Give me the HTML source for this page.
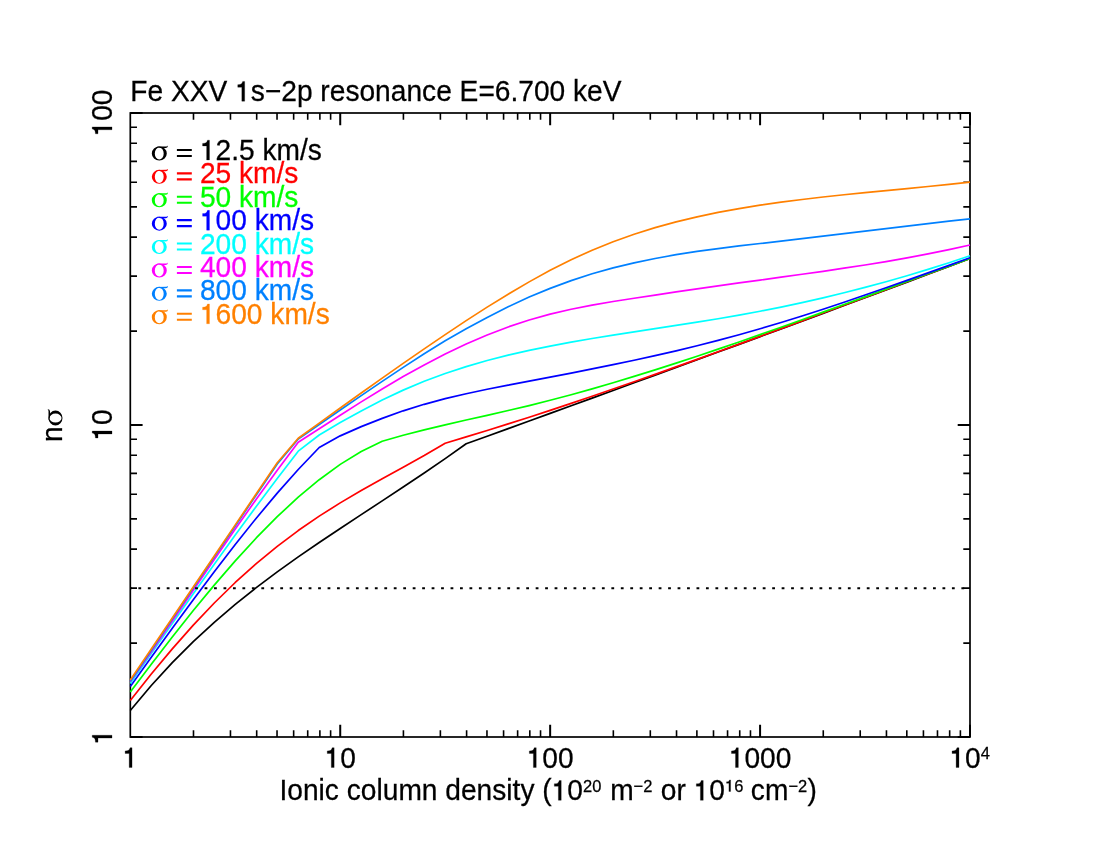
<!DOCTYPE html>
<html><head><meta charset="utf-8"><title>chart</title>
<style>html,body{margin:0;padding:0;background:#fff;width:1100px;height:850px;overflow:hidden}.s{font-family:"Liberation Sans",sans-serif;font-size:28.15px}.g{font-family:"Liberation Serif",serif;font-size:31px}.u{font-size:16.5px}.o{fill:none;stroke:none}</style></head>
<body>
<svg width="1100" height="850" viewBox="0 0 1100 850" style="position:absolute;left:0;top:0;will-change:transform">
<rect width="1100" height="850" fill="#fff"/>
<rect x="130.3" y="113.0" width="839.7" height="624.0" fill="none" stroke="#000" stroke-width="1.7"/>
<path d="M193.49,737.0v-6.7M193.49,113.0v6.7M230.46,737.0v-6.7M230.46,113.0v6.7M256.69,737.0v-6.7M256.69,113.0v6.7M277.03,737.0v-6.7M277.03,113.0v6.7M293.65,737.0v-6.7M293.65,113.0v6.7M307.71,737.0v-6.7M307.71,113.0v6.7M319.88,737.0v-6.7M319.88,113.0v6.7M330.62,737.0v-6.7M330.62,113.0v6.7M403.42,737.0v-6.7M403.42,113.0v6.7M440.38,737.0v-6.7M440.38,113.0v6.7M466.61,737.0v-6.7M466.61,113.0v6.7M486.96,737.0v-6.7M486.96,113.0v6.7M503.58,737.0v-6.7M503.58,113.0v6.7M517.63,737.0v-6.7M517.63,113.0v6.7M529.81,737.0v-6.7M529.81,113.0v6.7M540.54,737.0v-6.7M540.54,113.0v6.7M613.34,737.0v-6.7M613.34,113.0v6.7M650.31,737.0v-6.7M650.31,113.0v6.7M676.54,737.0v-6.7M676.54,113.0v6.7M696.88,737.0v-6.7M696.88,113.0v6.7M713.50,737.0v-6.7M713.50,113.0v6.7M727.56,737.0v-6.7M727.56,113.0v6.7M739.73,737.0v-6.7M739.73,113.0v6.7M750.47,737.0v-6.7M750.47,113.0v6.7M823.27,737.0v-6.7M823.27,113.0v6.7M860.23,737.0v-6.7M860.23,113.0v6.7M886.46,737.0v-6.7M886.46,113.0v6.7M906.81,737.0v-6.7M906.81,113.0v6.7M923.43,737.0v-6.7M923.43,113.0v6.7M937.48,737.0v-6.7M937.48,113.0v6.7M949.66,737.0v-6.7M949.66,113.0v6.7M960.39,737.0v-6.7M960.39,113.0v6.7M130.3,643.08h6.7M970.0,643.08h-6.7M130.3,588.14h6.7M970.0,588.14h-6.7M130.3,549.16h6.7M970.0,549.16h-6.7M130.3,518.92h6.7M970.0,518.92h-6.7M130.3,494.22h6.7M970.0,494.22h-6.7M130.3,473.33h6.7M970.0,473.33h-6.7M130.3,455.24h6.7M970.0,455.24h-6.7M130.3,439.28h6.7M970.0,439.28h-6.7M130.3,331.08h6.7M970.0,331.08h-6.7M130.3,276.14h6.7M970.0,276.14h-6.7M130.3,237.16h6.7M970.0,237.16h-6.7M130.3,206.92h6.7M970.0,206.92h-6.7M130.3,182.22h6.7M970.0,182.22h-6.7M130.3,161.33h6.7M970.0,161.33h-6.7M130.3,143.24h6.7M970.0,143.24h-6.7M130.3,127.28h6.7M970.0,127.28h-6.7" stroke="#000" stroke-width="1.6" fill="none"/>
<path d="M340.23,737.0v-12.3M340.23,113.0v12.3M550.15,737.0v-12.3M550.15,113.0v12.3M760.08,737.0v-12.3M760.08,113.0v12.3M970.00,737.0v-12.3M970.00,113.0v12.3M130.3,737.00h12.3M970.0,737.00h-12.3M130.3,425.00h12.3M970.0,425.00h-12.3M130.3,113.00h12.3M970.0,113.00h-12.3" stroke="#000" stroke-width="2" fill="none"/>
<polyline points="130.30,710.51 151.29,685.49 172.29,662.63 193.28,641.65 214.27,622.33 235.26,604.41 256.25,587.68 277.25,571.92 298.24,556.92 319.23,542.49 340.23,528.45 361.22,514.64 382.21,500.90 403.20,487.07 424.20,473.02 445.19,458.64 466.18,443.80 487.17,436.20 508.17,428.58 529.16,420.97 550.15,413.34 571.14,405.71 592.14,398.08 613.13,390.43 634.12,382.77 655.11,375.11 676.11,367.43 697.10,359.75 718.09,352.05 739.08,344.34 760.08,336.61 781.07,328.87 802.06,321.12 823.05,313.35 844.05,305.57 865.04,297.77 886.03,289.95 907.02,282.12 928.02,274.27 949.01,266.39 970.00,258.50" fill="none" stroke="#000000" stroke-width="1.7" stroke-linejoin="round"/>
<polyline points="130.30,700.51 151.29,674.04 172.29,648.86 193.28,625.15 214.27,603.00 235.26,582.49 256.25,563.62 277.25,546.34 298.24,530.57 319.23,516.15 340.23,502.88 361.22,490.51 382.21,478.74 403.20,467.21 424.20,455.52 445.19,443.20 466.18,436.93 487.17,430.50 508.17,423.91 529.16,417.19 550.15,410.34 571.14,403.36 592.14,396.27 613.13,389.07 634.12,381.77 655.11,374.38 676.11,366.92 697.10,359.38 718.09,351.77 739.08,344.11 760.08,336.40 781.07,328.65 802.06,320.87 823.05,313.07 844.05,305.25 865.04,297.43 886.03,289.61 907.02,281.79 928.02,274.00 949.01,266.24 970.00,258.50" fill="none" stroke="#ff0000" stroke-width="1.7" stroke-linejoin="round"/>
<polyline points="130.30,692.00 151.29,664.21 172.29,637.00 193.28,610.56 214.27,585.11 235.26,560.85 256.25,537.97 277.25,516.69 298.24,497.19 319.23,479.69 340.23,464.39 361.22,451.49 382.21,441.20 403.20,435.26 424.20,429.86 445.19,424.83 466.18,420.03 487.17,415.31 508.17,410.54 529.16,405.57 550.15,400.29 571.14,394.72 592.14,388.87 613.13,382.77 634.12,376.43 655.11,369.88 676.11,363.14 697.10,356.21 718.09,349.14 739.08,341.93 760.08,334.60 781.07,327.18 802.06,319.68 823.05,312.12 844.05,304.51 865.04,296.87 886.03,289.19 907.02,281.51 928.02,273.82 949.01,266.15 970.00,258.50" fill="none" stroke="#00ff00" stroke-width="1.7" stroke-linejoin="round"/>
<polyline points="130.30,686.50 151.29,657.33 172.29,628.34 193.28,599.72 214.27,571.69 235.26,544.45 256.25,518.20 277.25,493.16 298.24,469.52 319.23,447.50 340.23,435.86 361.22,426.61 382.21,418.35 403.20,410.82 424.20,404.31 445.19,398.68 466.18,393.74 487.17,389.29 508.17,385.17 529.16,381.17 550.15,377.17 571.14,373.10 592.14,368.95 613.13,364.68 634.12,360.26 655.11,355.65 676.11,350.83 697.10,345.77 718.09,340.42 739.08,334.77 760.08,328.79 781.07,322.51 802.06,315.97 823.05,309.19 844.05,302.20 865.04,295.05 886.03,287.76 907.02,280.35 928.02,272.87 949.01,265.34 970.00,257.80" fill="none" stroke="#0000ff" stroke-width="1.7" stroke-linejoin="round"/>
<polyline points="130.30,683.50 151.29,653.50 172.29,623.54 193.28,593.72 214.27,564.18 235.26,535.03 256.25,506.40 277.25,478.42 298.24,451.20 319.23,435.00 340.23,422.59 361.22,410.90 382.21,400.04 403.20,390.14 424.20,381.27 445.19,373.46 466.18,366.58 487.17,360.52 508.17,355.16 529.16,350.37 550.15,346.05 571.14,342.11 592.14,338.47 613.13,335.05 634.12,331.79 655.11,328.60 676.11,325.42 697.10,322.16 718.09,318.76 739.08,315.14 760.08,311.24 781.07,307.06 802.06,302.59 823.05,297.82 844.05,292.75 865.04,287.38 886.03,281.70 907.02,275.71 928.02,269.40 949.01,262.76 970.00,255.80" fill="none" stroke="#00ffff" stroke-width="1.7" stroke-linejoin="round"/>
<polyline points="130.30,681.79 151.29,651.66 172.29,621.07 193.28,590.27 214.27,559.52 235.26,529.08 256.25,499.21 277.25,470.16 298.24,442.20 319.23,428.77 340.23,415.24 361.22,401.87 382.21,388.91 403.20,376.57 424.20,364.94 445.19,354.09 466.18,344.09 487.17,335.03 508.17,326.96 529.16,319.97 550.15,314.10 571.14,309.22 592.14,305.11 613.13,301.53 634.12,298.25 655.11,295.07 676.11,291.94 697.10,288.88 718.09,285.88 739.08,282.94 760.08,280.05 781.07,277.17 802.06,274.27 823.05,271.30 844.05,268.21 865.04,264.98 886.03,261.54 907.02,257.87 928.02,253.91 949.01,249.64 970.00,245.00" fill="none" stroke="#ff00ff" stroke-width="1.7" stroke-linejoin="round"/>
<polyline points="130.30,681.20 151.29,650.15 172.29,619.10 193.28,588.04 214.27,557.00 235.26,525.97 256.25,494.94 277.25,463.90 298.24,439.00 319.23,424.56 340.23,410.07 361.22,395.63 382.21,381.35 403.20,367.35 424.20,353.74 445.19,340.81 466.18,328.77 487.17,317.39 508.17,306.75 529.16,297.07 550.15,288.36 571.14,280.59 592.14,273.78 613.13,267.89 634.12,262.83 655.11,258.47 676.11,254.71 697.10,251.44 718.09,248.56 739.08,245.94 760.08,243.49 781.07,241.09 802.06,238.65 823.05,236.18 844.05,233.68 865.04,231.16 886.03,228.64 907.02,226.13 928.02,223.65 949.01,221.20 970.00,218.80" fill="none" stroke="#0080ff" stroke-width="1.7" stroke-linejoin="round"/>
<polyline points="130.30,680.08 151.29,649.04 172.29,618.00 193.28,586.96 214.27,555.92 235.26,524.87 256.25,493.83 277.25,462.80 298.24,438.20 319.23,423.08 340.23,407.99 361.22,392.98 382.21,378.09 403.20,363.36 424.20,348.84 445.19,334.58 466.18,320.65 487.17,307.14 508.17,294.18 529.16,281.87 550.15,270.34 571.14,259.73 592.14,250.18 613.13,241.71 634.12,234.22 655.11,227.64 676.11,221.87 697.10,216.83 718.09,212.43 739.08,208.58 760.08,205.20 781.07,202.20 802.06,199.49 823.05,197.03 844.05,194.76 865.04,192.62 886.03,190.57 907.02,188.56 928.02,186.52 949.01,184.42 970.00,182.20" fill="none" stroke="#ff8000" stroke-width="1.7" stroke-linejoin="round"/>
<line x1="130.3" y1="588.14" x2="970.0" y2="588.14" stroke="#000" stroke-width="2" stroke-dasharray="2.8 6.66" stroke-dashoffset="1.4"/>
<g transform="translate(130.30,101.20) scale(1,1.045)" stroke="#000" stroke-width="0.25"><text class="s">Fe XXV <tspan class="o">1</tspan>s−2p resonance E=6.700 keV</text><path transform="translate(104.79,0.00) scale(28.150,-28.150)" stroke-width="0.0089" d="M0.340,0L0.239,0L0.239,0.4756L0.095,0.4756L0.095,0.5627Q0.175,0.5665 0.215,0.5837Q0.255,0.6124 0.270,0.6727L0.340,0.6727Z"/></g>
<g transform="translate(130.30,767.50) scale(1,1.045)" stroke="#000" stroke-width="0.25"><text class="s" text-anchor="middle"><tspan class="o">1</tspan></text><path transform="translate(-7.83,0.00) scale(28.150,-28.150)" stroke-width="0.0089" d="M0.340,0L0.239,0L0.239,0.4756L0.095,0.4756L0.095,0.5627Q0.175,0.5665 0.215,0.5837Q0.255,0.6124 0.270,0.6727L0.340,0.6727Z"/></g>
<g transform="translate(340.23,767.50) scale(1,1.045)" stroke="#000" stroke-width="0.25"><text class="s" text-anchor="middle"><tspan class="o">1</tspan>0</text><path transform="translate(-15.66,0.00) scale(28.150,-28.150)" stroke-width="0.0089" d="M0.340,0L0.239,0L0.239,0.4756L0.095,0.4756L0.095,0.5627Q0.175,0.5665 0.215,0.5837Q0.255,0.6124 0.270,0.6727L0.340,0.6727Z"/></g>
<g transform="translate(550.15,767.50) scale(1,1.045)" stroke="#000" stroke-width="0.25"><text class="s" text-anchor="middle"><tspan class="o">1</tspan>00</text><path transform="translate(-23.48,0.00) scale(28.150,-28.150)" stroke-width="0.0089" d="M0.340,0L0.239,0L0.239,0.4756L0.095,0.4756L0.095,0.5627Q0.175,0.5665 0.215,0.5837Q0.255,0.6124 0.270,0.6727L0.340,0.6727Z"/></g>
<g transform="translate(760.08,767.50) scale(1,1.045)" stroke="#000" stroke-width="0.25"><text class="s" text-anchor="middle"><tspan class="o">1</tspan>000</text><path transform="translate(-31.31,0.00) scale(28.150,-28.150)" stroke-width="0.0089" d="M0.340,0L0.239,0L0.239,0.4756L0.095,0.4756L0.095,0.5627Q0.175,0.5665 0.215,0.5837Q0.255,0.6124 0.270,0.6727L0.340,0.6727Z"/></g>
<g transform="translate(949.40,767.50) scale(1,1.045)" stroke="#000" stroke-width="0.25"><text class="s"><tspan class="o">1</tspan>0<tspan class="u" dy="-8.4">4</tspan></text><path transform="translate(0.00,0.00) scale(28.150,-28.150)" stroke-width="0.0089" d="M0.340,0L0.239,0L0.239,0.4756L0.095,0.4756L0.095,0.5627Q0.175,0.5665 0.215,0.5837Q0.255,0.6124 0.270,0.6727L0.340,0.6727Z"/></g>
<g transform="translate(112.00,737.00) rotate(-90) scale(1,1.045)" stroke="#000" stroke-width="0.25"><text class="s" text-anchor="middle"><tspan class="o">1</tspan></text><path transform="translate(-7.83,0.00) scale(28.150,-28.150)" stroke-width="0.0089" d="M0.340,0L0.239,0L0.239,0.4756L0.095,0.4756L0.095,0.5627Q0.175,0.5665 0.215,0.5837Q0.255,0.6124 0.270,0.6727L0.340,0.6727Z"/></g>
<g transform="translate(112.00,425.00) rotate(-90) scale(1,1.045)" stroke="#000" stroke-width="0.25"><text class="s" text-anchor="middle"><tspan class="o">1</tspan>0</text><path transform="translate(-15.66,0.00) scale(28.150,-28.150)" stroke-width="0.0089" d="M0.340,0L0.239,0L0.239,0.4756L0.095,0.4756L0.095,0.5627Q0.175,0.5665 0.215,0.5837Q0.255,0.6124 0.270,0.6727L0.340,0.6727Z"/></g>
<g transform="translate(112.00,113.00) rotate(-90) scale(1,1.045)" stroke="#000" stroke-width="0.25"><text class="s" text-anchor="middle"><tspan class="o">1</tspan>00</text><path transform="translate(-23.48,0.00) scale(28.150,-28.150)" stroke-width="0.0089" d="M0.340,0L0.239,0L0.239,0.4756L0.095,0.4756L0.095,0.5627Q0.175,0.5665 0.215,0.5837Q0.255,0.6124 0.270,0.6727L0.340,0.6727Z"/></g>
<g transform="translate(62.00,442.10) rotate(-90) scale(1,1.045)" stroke="#000" stroke-width="0.25"><text class="s">n</text></g>
<g transform="translate(62.00,425.50) rotate(-90)" fill="#000"><path fill-rule="evenodd" d="M0,-6.5a7.5,7.0 0 1,0 15,0a7.5,7.0 0 1,0 -15,0ZM3.0,-6.5a4.45,6.05 0 1,1 8.9,0a4.45,6.05 0 1,1 -8.9,0Z"/><path d="M5,-13.45L14.4,-13.5Q15.5,-13.6 15.8,-14.25L16.15,-14.1Q16.1,-12.1 14.2,-12.0L8.5,-12.0Z"/></g>
<g transform="translate(279.50,800.30) scale(1,1.045)" stroke="#000" stroke-width="0.25"><text class="s">Ionic column density (<tspan class="o">1</tspan>0<tspan class="u" dy="-8.4">20</tspan><tspan dy="8.4" dx="1.0"> m</tspan><tspan class="u" dy="-8.4">−2</tspan><tspan dy="8.4" dx="0.6"> or <tspan class="o">1</tspan>0</tspan><tspan class="u" dy="-8.4"><tspan class="o">1</tspan>6</tspan><tspan dy="8.4" dx="-0.3"> cm</tspan><tspan class="u" dy="-8.4">−2</tspan><tspan dy="8.4" dx="0.4">)</tspan></text><path transform="translate(272.15,0.00) scale(28.150,-28.150)" stroke-width="0.0089" d="M0.340,0L0.239,0L0.239,0.4756L0.095,0.4756L0.095,0.5627Q0.175,0.5665 0.215,0.5837Q0.255,0.6124 0.270,0.6727L0.340,0.6727Z"/><path transform="translate(414.17,0.00) scale(28.150,-28.150)" stroke-width="0.0089" d="M0.340,0L0.239,0L0.239,0.4756L0.095,0.4756L0.095,0.5627Q0.175,0.5665 0.215,0.5837Q0.255,0.6124 0.270,0.6727L0.340,0.6727Z"/><path transform="translate(445.49,-8.40) scale(16.500,-16.500)" stroke-width="0.0152" d="M0.340,0L0.239,0L0.239,0.4756L0.095,0.4756L0.095,0.5627Q0.175,0.5665 0.215,0.5837Q0.255,0.6124 0.270,0.6727L0.340,0.6727Z"/></g>
<g transform="translate(151.80,159.95)" fill="#000000"><path fill-rule="evenodd" d="M0,-6.5a7.5,7.0 0 1,0 15,0a7.5,7.0 0 1,0 -15,0ZM3.0,-6.5a4.45,6.05 0 1,1 8.9,0a4.45,6.05 0 1,1 -8.9,0Z"/><path d="M5,-13.45L14.4,-13.5Q15.5,-13.6 15.8,-14.25L16.15,-14.1Q16.1,-12.1 14.2,-12.0L8.5,-12.0Z"/></g>
<path d="M176.9,148.90h14.9v2.1h-14.9zM176.9,154.90h14.9v2.1h-14.9z" fill="#000000"/>
<g transform="translate(199.90,159.95) scale(1,1.045)" fill="#000000" stroke="#000000" stroke-width="0.25"><text class="s"><tspan class="o">1</tspan>2.5 km/s</text><path transform="translate(0.00,0.00) scale(28.150,-28.150)" stroke-width="0.0089" d="M0.340,0L0.239,0L0.239,0.4756L0.095,0.4756L0.095,0.5627Q0.175,0.5665 0.215,0.5837Q0.255,0.6124 0.270,0.6727L0.340,0.6727Z"/></g>
<g transform="translate(151.80,183.35)" fill="#ff0000"><path fill-rule="evenodd" d="M0,-6.5a7.5,7.0 0 1,0 15,0a7.5,7.0 0 1,0 -15,0ZM3.0,-6.5a4.45,6.05 0 1,1 8.9,0a4.45,6.05 0 1,1 -8.9,0Z"/><path d="M5,-13.45L14.4,-13.5Q15.5,-13.6 15.8,-14.25L16.15,-14.1Q16.1,-12.1 14.2,-12.0L8.5,-12.0Z"/></g>
<path d="M176.9,172.30h14.9v2.1h-14.9zM176.9,178.30h14.9v2.1h-14.9z" fill="#ff0000"/>
<g transform="translate(199.90,183.35) scale(1,1.045)" fill="#ff0000" stroke="#ff0000" stroke-width="0.25"><text class="s">25 km/s</text></g>
<g transform="translate(151.80,206.75)" fill="#00ff00"><path fill-rule="evenodd" d="M0,-6.5a7.5,7.0 0 1,0 15,0a7.5,7.0 0 1,0 -15,0ZM3.0,-6.5a4.45,6.05 0 1,1 8.9,0a4.45,6.05 0 1,1 -8.9,0Z"/><path d="M5,-13.45L14.4,-13.5Q15.5,-13.6 15.8,-14.25L16.15,-14.1Q16.1,-12.1 14.2,-12.0L8.5,-12.0Z"/></g>
<path d="M176.9,195.70h14.9v2.1h-14.9zM176.9,201.70h14.9v2.1h-14.9z" fill="#00ff00"/>
<g transform="translate(199.90,206.75) scale(1,1.045)" fill="#00ff00" stroke="#00ff00" stroke-width="0.25"><text class="s">50 km/s</text></g>
<g transform="translate(151.80,230.15)" fill="#0000ff"><path fill-rule="evenodd" d="M0,-6.5a7.5,7.0 0 1,0 15,0a7.5,7.0 0 1,0 -15,0ZM3.0,-6.5a4.45,6.05 0 1,1 8.9,0a4.45,6.05 0 1,1 -8.9,0Z"/><path d="M5,-13.45L14.4,-13.5Q15.5,-13.6 15.8,-14.25L16.15,-14.1Q16.1,-12.1 14.2,-12.0L8.5,-12.0Z"/></g>
<path d="M176.9,219.10h14.9v2.1h-14.9zM176.9,225.10h14.9v2.1h-14.9z" fill="#0000ff"/>
<g transform="translate(199.90,230.15) scale(1,1.045)" fill="#0000ff" stroke="#0000ff" stroke-width="0.25"><text class="s"><tspan class="o">1</tspan>00 km/s</text><path transform="translate(0.00,0.00) scale(28.150,-28.150)" stroke-width="0.0089" d="M0.340,0L0.239,0L0.239,0.4756L0.095,0.4756L0.095,0.5627Q0.175,0.5665 0.215,0.5837Q0.255,0.6124 0.270,0.6727L0.340,0.6727Z"/></g>
<g transform="translate(151.80,253.55)" fill="#00ffff"><path fill-rule="evenodd" d="M0,-6.5a7.5,7.0 0 1,0 15,0a7.5,7.0 0 1,0 -15,0ZM3.0,-6.5a4.45,6.05 0 1,1 8.9,0a4.45,6.05 0 1,1 -8.9,0Z"/><path d="M5,-13.45L14.4,-13.5Q15.5,-13.6 15.8,-14.25L16.15,-14.1Q16.1,-12.1 14.2,-12.0L8.5,-12.0Z"/></g>
<path d="M176.9,242.50h14.9v2.1h-14.9zM176.9,248.50h14.9v2.1h-14.9z" fill="#00ffff"/>
<g transform="translate(199.90,253.55) scale(1,1.045)" fill="#00ffff" stroke="#00ffff" stroke-width="0.25"><text class="s">200 km/s</text></g>
<g transform="translate(151.80,276.95)" fill="#ff00ff"><path fill-rule="evenodd" d="M0,-6.5a7.5,7.0 0 1,0 15,0a7.5,7.0 0 1,0 -15,0ZM3.0,-6.5a4.45,6.05 0 1,1 8.9,0a4.45,6.05 0 1,1 -8.9,0Z"/><path d="M5,-13.45L14.4,-13.5Q15.5,-13.6 15.8,-14.25L16.15,-14.1Q16.1,-12.1 14.2,-12.0L8.5,-12.0Z"/></g>
<path d="M176.9,265.90h14.9v2.1h-14.9zM176.9,271.90h14.9v2.1h-14.9z" fill="#ff00ff"/>
<g transform="translate(199.90,276.95) scale(1,1.045)" fill="#ff00ff" stroke="#ff00ff" stroke-width="0.25"><text class="s">400 km/s</text></g>
<g transform="translate(151.80,300.35)" fill="#0080ff"><path fill-rule="evenodd" d="M0,-6.5a7.5,7.0 0 1,0 15,0a7.5,7.0 0 1,0 -15,0ZM3.0,-6.5a4.45,6.05 0 1,1 8.9,0a4.45,6.05 0 1,1 -8.9,0Z"/><path d="M5,-13.45L14.4,-13.5Q15.5,-13.6 15.8,-14.25L16.15,-14.1Q16.1,-12.1 14.2,-12.0L8.5,-12.0Z"/></g>
<path d="M176.9,289.30h14.9v2.1h-14.9zM176.9,295.30h14.9v2.1h-14.9z" fill="#0080ff"/>
<g transform="translate(199.90,300.35) scale(1,1.045)" fill="#0080ff" stroke="#0080ff" stroke-width="0.25"><text class="s">800 km/s</text></g>
<g transform="translate(151.80,323.75)" fill="#ff8000"><path fill-rule="evenodd" d="M0,-6.5a7.5,7.0 0 1,0 15,0a7.5,7.0 0 1,0 -15,0ZM3.0,-6.5a4.45,6.05 0 1,1 8.9,0a4.45,6.05 0 1,1 -8.9,0Z"/><path d="M5,-13.45L14.4,-13.5Q15.5,-13.6 15.8,-14.25L16.15,-14.1Q16.1,-12.1 14.2,-12.0L8.5,-12.0Z"/></g>
<path d="M176.9,312.70h14.9v2.1h-14.9zM176.9,318.70h14.9v2.1h-14.9z" fill="#ff8000"/>
<g transform="translate(199.90,323.75) scale(1,1.045)" fill="#ff8000" stroke="#ff8000" stroke-width="0.25"><text class="s"><tspan class="o">1</tspan>600 km/s</text><path transform="translate(0.00,0.00) scale(28.150,-28.150)" stroke-width="0.0089" d="M0.340,0L0.239,0L0.239,0.4756L0.095,0.4756L0.095,0.5627Q0.175,0.5665 0.215,0.5837Q0.255,0.6124 0.270,0.6727L0.340,0.6727Z"/></g>
</svg>
</body></html>
